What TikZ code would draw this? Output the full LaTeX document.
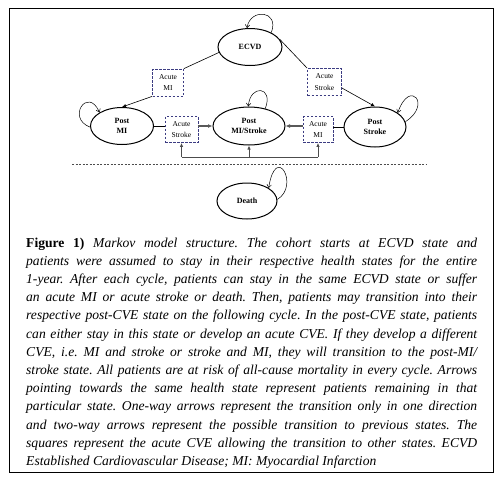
\documentclass[tikz,border=0pt]{standalone}
\usepackage{fontspec}
\setmainfont{Liberation Serif}
\usetikzlibrary{shapes.geometric,arrows.meta,calc}
\definecolor{boxblue}{RGB}{60,60,130}
\begin{document}
\begin{tikzpicture}[x=1pt,y=-1pt,
 state/.style={ellipse,draw,line width=1pt,inner sep=0pt,font=\fontsize{8}{10}\selectfont\bfseries,align=center},
 acute/.style={draw=boxblue,dash pattern=on 2.5pt off 1.5pt,line width=0.8pt,inner sep=0pt,font=\fontsize{7.5}{11.5}\selectfont,align=center},
 link/.style={line width=0.6pt},
 arr/.style={line width=0.6pt,-{Latex[length=4pt,width=3.5pt]}},
 thickarr/.style={line width=1.1pt,draw=black!65,-{Latex[length=4.5pt,width=4pt]}},
 busline/.style={line width=0.9pt,draw=black!70},
 busarr/.style={line width=0.9pt,draw=black!70,-{Latex[length=4pt,width=3.5pt]}},
 loopy/.style={line width=0.5pt,-{Straight Barb[length=3pt,width=4.5pt]}},
]
\useasboundingbox (0,0) rectangle (501,483);
\draw[line width=0.9pt] (9,8) rectangle (493,472);

% states
\node[state,minimum width=64pt,minimum height=37pt] (ECVD) at (250,47) {ECVD};
\node[state,minimum width=63pt,minimum height=37pt] (PMI) at (122,126) {Post\\MI};
\node[state,minimum width=72pt,minimum height=38pt] (PMS) at (249,126) {Post\\MI/Stroke};
\node[state,minimum width=62pt,minimum height=40pt] (PS) at (375,127) {Post\\Stroke};
\node[state,minimum width=60pt,minimum height=36pt] (D) at (247,201) {Death};

% acute boxes
\node[acute,minimum width=31pt,minimum height=27pt] (aMI1) at (168,82.5) {Acute\\MI};
\node[acute,minimum width=34pt,minimum height=27pt] (aS1) at (324.5,82) {Acute\\Stroke};
\node[acute,minimum width=33pt,minimum height=26pt] (aS2) at (181.5,129.5) {Acute\\Stroke};
\node[acute,minimum width=30pt,minimum height=26pt] (aMI2) at (318,129.5) {Acute\\MI};

% top connectors
\draw[link] (ECVD.190) -- (aMI1.north east);
\draw[arr] (aMI1.south west) -- (PMI.north);
\draw[link] (ECVD.15) -- (aS1.north west);
\draw[arr] ($(aS1.east)+(0,6)$) -- (PS.north);

% middle connectors
\draw[link] (PMI.east) -- (PMI.east -| aS2.west);
\draw[thickarr] (aS2.east |- PMS.west) -- (PMS.west);
\draw[link] (PS.west) -- (PS.west -| aMI2.east);
\draw[thickarr] (aMI2.west |- PMS.east) -- (PMS.east);

% bus
\coordinate (bus) at (249,157);
\draw[busline] (aS2.south |- bus) -- (aMI2.south |- bus);
\draw[busarr] (aS2.south |- bus) -- (aS2.south);
\draw[busarr] (PMS.south |- bus) -- (PMS.south);
\draw[busarr] (aMI2.south |- bus) -- (aMI2.south);

% separator
\coordinate (sepL) at (72,164);
\coordinate (sepR) at (426,164);
\draw[line width=0.5pt,black!70,dash pattern=on 2pt off 1.5pt] (sepL) -- (sepR);

% self loops
\draw[loopy] (ECVD.34) .. controls (280,10) and (250,8) .. (ECVD.99);
\draw[loopy] (PMI.182) .. controls (66,118) and (88,86) .. (PMI.149);
\draw[loopy] (PMS.47) .. controls (274,86) and (250,84) .. (PMS.92);
\draw[loopy] (PS.10) .. controls (432,105) and (410,78) .. (PS.32);
\draw[loopy] (D.3) .. controls (300,186) and (276,142) .. (D.31);

% caption
\node[anchor=base west,inner sep=0pt] (cap) at (26,247) {\parbox[t]{451pt}{\fontsize{13.6}{18.2}\selectfont\itshape\frenchspacing
{\upshape\bfseries Figure 1)} Markov model structure. The cohort starts at ECVD state and\linebreak
patients were assumed to stay in their respective health states for the entire\linebreak
1-year. After each cycle, patients can stay in the same ECVD state or suffer\linebreak
an acute MI or acute stroke or death. Then, patients may transition into their\linebreak
respective post-CVE state on the following cycle. In the post-CVE state, patients\linebreak
can either stay in this state or develop an acute CVE. If they develop a different\linebreak
CVE, i.e. MI and stroke or stroke and MI, they will transition to the post-MI/\linebreak
stroke state. All patients are at risk of all-cause mortality in every cycle. Arrows\linebreak
pointing towards the same health state represent patients remaining in that\linebreak
particular state. One-way arrows represent the transition only in one direction\linebreak
and two-way arrows represent the possible transition to previous states. The\linebreak
squares represent the acute CVE allowing the transition to other states. ECVD\linebreak
Established Cardiovascular Disease; MI: Myocardial Infarction}};
\end{tikzpicture}
\end{document}
